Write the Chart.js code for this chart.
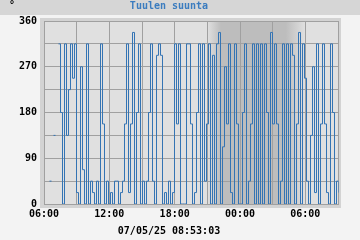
<!DOCTYPE html>
<html>
<head>
<meta charset="utf-8">
<script src="https://cdn.jsdelivr.net/npm/chart.js@4.4.1/dist/chart.umd.min.js"></script>
<style>
  html, body { margin: 0; padding: 0; background: #f3f3f3; }
  #wrap { width: 360px; height: 240px; }
</style>
</head>
<body>
<div id="wrap"><canvas id="chartSuunta" width="360" height="240"></canvas></div>
<script>
// ---- data ----
const TITLE = 'Tuulen suunta';
const UNIT  = '°';
const STAMP = '07/05/25 08:53:03';

const gridHours   = [6, 9, 12, 15, 18, 21, 24, 27, 30, 33];
const labelHours  = [6, 12, 18, 24, 30];
const hourLabels  = ['06:00', '12:00', '18:00', '00:00', '06:00'];
const gridDegrees  = [0, 45, 90, 135, 180, 225, 270, 315, 360];
const labelDegrees = [0, 90, 180, 270, 360];

const xMin = 6, xMax = 33;          // 06:00 -> 09:00 next day
const sampleStart = 6;              // first reading 06:00
const sampleStep  = 27 / 147;       // hours between readings (~11 min)
const night = [21.0, 22.25, 28.2, 30.0]; // dusk start, dark, dark end, dawn end

// wind direction, degrees (null = no reading)
const direction = [
  null, null, null, 45, null, 135, null, 315, 180, 0,
  315, 135, 225, 315, 247.5, 315, 22.5, 0, 270, 67.5,
  0, 315, 0, 45, 22.5, 0, 45, 0, 315, 157.5,
  0, 45, 0, 22.5, 0, 45, 45, 0, 22.5, 45,
  157.5, 315, 22.5, 157.5, 337.5, 0, 180, 315, 0, 45,
  0, 45, 180, 315, 45, 0, 292.5, 315, 292.5, 0,
  22.5, 0, 45, 0, 22.5, 315, 157.5, 315, 0, 0,
  0, 315, 315, 157.5, 0, 22.5, 180, 315, 0, 315,
  45, 157.5, 315, 0, 292.5, 0, 315, 337.5, 0, 112.5,
  270, 157.5, 315, 22.5, 0, 315, 157.5, 0, 0, 180,
  315, 0, 45, 157.5, 315, 0, 315, 0, 315, 0,
  315, 180, 0, 337.5, 157.5, 315, 157.5, 0, 45, 315,
  0, 315, 0, 315, 292.5, 0, 157.5, 337.5, 0, 315,
  247.5, 45, 0, 135, 270, 22.5, 315, 0, 157.5, 315,
  157.5, 22.5, 0, 315, 180, 0, 45, 22.5
];

const points = direction.map((v, i) => ({ x: sampleStart + i * sampleStep, y: v }));

const FONT = { family: "'DejaVu Sans Mono', monospace", size: 10, weight: 'bold', lineHeight: 1.2 };
const GRID = '#a0a0a0';
const LINE = '#3474b4';

const fmtHour = v => { const k = labelHours.indexOf(v); return k < 0 ? '' : hourLabels[k]; };

const isolated = ctx => {
  const d = ctx.dataset.data, i = ctx.dataIndex;
  if (!d[i] || d[i].y === null) return 0;
  const prev = d[i - 1], next = d[i + 1];
  return (!prev || prev.y === null) && (!next || next.y === null) ? 1 : 0;
};

// backgrounds, frame, night shading
const backdrop = {
  id: 'backdrop',
  beforeDraw(chart) {
    const { ctx, chartArea: a, scales: { x } } = chart;
    ctx.save();
    ctx.fillStyle = '#f3f3f3';
    ctx.fillRect(0, 0, chart.width, chart.height);
    ctx.fillStyle = '#d6d6d6';
    ctx.fillRect(0, 0, chart.width, 15);
    ctx.fillStyle = '#d3d3d3';
    ctx.fillRect(a.left - 4, a.top - 3, a.width + 7, a.height + 7);
    ctx.fillStyle = '#e0e0e0';
    ctx.fillRect(a.left, a.top, a.width, a.height);

    const x0 = x.getPixelForValue(night[0]), x3 = x.getPixelForValue(night[3]);
    const f = h => (x.getPixelForValue(h) - x0) / (x3 - x0);
    const g = ctx.createLinearGradient(x0, 0, x3, 0);
    g.addColorStop(0, '#e0e0e0');
    g.addColorStop(f(night[1]), '#bdbdbd');
    g.addColorStop(f(night[2]), '#bdbdbd');
    g.addColorStop(1, '#e0e0e0');
    ctx.fillStyle = g;
    ctx.fillRect(x0, a.top, x3 - x0, a.height);
    ctx.restore();
  },
  beforeDatasetsDraw(chart) {
    const { ctx, chartArea: a } = chart;
    ctx.save();
    ctx.strokeStyle = GRID;
    ctx.lineWidth = 1;
    ctx.beginPath();
    ctx.moveTo(Math.round(a.right) + 0.5, a.top);
    ctx.lineTo(Math.round(a.right) + 0.5, a.bottom + 1);
    ctx.stroke();
    ctx.restore();
    ctx.save();
    ctx.translate(0.5, 0);
  },
  afterDatasetsDraw(chart) {
    chart.ctx.restore();
  },
  afterDraw(chart) {
    const { ctx } = chart;
    ctx.save();
    ctx.font = "bold 10px 'DejaVu Sans Mono', monospace";
    ctx.fillStyle = '#000';
    ctx.textAlign = 'center';
    ctx.textBaseline = 'middle';
    ctx.fillText(UNIT, 12, 5);
    ctx.restore();
  }
};

new Chart(document.getElementById('chartSuunta'), {
  type: 'line',
  data: {
    datasets: [{
      data: points,
      borderColor: LINE,
      borderWidth: 1,
      stepped: true,
      spanGaps: false,
      fill: false,
      tension: 0,
      pointStyle: 'line',
      pointRadius: isolated,
      pointBorderColor: LINE,
      pointBorderWidth: 1,
    }]
  },
  options: {
    responsive: false,
    animation: false,
    devicePixelRatio: 1,
    layout: { padding: { left: 0, right: 22, top: 0, bottom: 0 } },
    plugins: {
      legend: { display: false },
      tooltip: { enabled: false },
      title: { display: true, text: TITLE, color: '#3b7cbf', font: FONT, padding: { top: 0, bottom: 9 } },
      subtitle: { display: true, text: STAMP, position: 'bottom', color: '#000', font: FONT, padding: { top: 0, bottom: 3 } },
    },
    scales: {
      x: {
        type: 'linear', min: xMin, max: xMax,
        afterBuildTicks: s => { s.ticks = gridHours.map(v => ({ value: v })); },
        afterFit: s => { s.height = 21; },
        grid: { color: GRID, drawTicks: false },
        border: { display: false },
        ticks: { padding: 4, maxRotation: 0, autoSkip: false, color: '#000', font: FONT, callback: fmtHour },
      },
      y: {
        min: 0, max: 360,
        afterBuildTicks: s => { s.ticks = gridDegrees.map(v => ({ value: v })); },
        afterFit: s => { s.width = 44; },
        grid: { color: GRID, drawTicks: false },
        border: { display: true, color: GRID },
        ticks: { padding: 7, color: '#000', font: FONT, callback: v => labelDegrees.includes(v) ? String(v) : '' },
      },
    },
  },
  plugins: [backdrop],
});
</script>
</body>
</html>
